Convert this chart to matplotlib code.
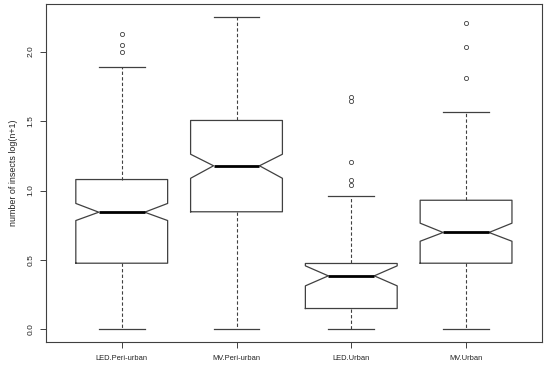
import matplotlib
matplotlib.use("Agg")
import matplotlib.pyplot as plt

# groups and summary stats
groups = ["LED.Peri-urban", "MV.Peri-urban", "LED.Urban", "MV.Urban"]
q1 = [0.477, 0.847, 0.151, 0.477]
med = [0.844, 1.178, 0.386, 0.698]
q3 = [1.079, 1.504, 0.475, 0.930]
whislo = [0.0, 0.0, 0.0, 0.0]
whishi = [1.89, 2.252, 0.957, 1.568]
notch_lo = [0.784, 1.088, 0.314, 0.635]
notch_hi = [0.907, 1.261, 0.458, 0.765]
outliers = [
    [2.125, 2.05, 1.998],
    [],
    [1.676, 1.647, 1.204, 1.079, 1.041],
    [2.204, 2.034, 1.808],
]

plt.rcParams['font.family'] = ['Liberation Sans', 'DejaVu Sans']

stats = []
for i in range(len(groups)):
    stats.append(dict(label=groups[i], q1=q1[i], med=med[i], q3=q3[i],
                      whislo=whislo[i], whishi=whishi[i],
                      cilo=notch_lo[i], cihi=notch_hi[i], fliers=outliers[i]))

fig = plt.figure(figsize=(5.5, 3.67), dpi=100)
ax = fig.add_axes([0.0836, 0.0681, 0.9015, 0.9210])

col = "#404040"
ax.bxp(stats, positions=[1, 2, 3, 4], widths=0.8, shownotches=True,
       boxprops=dict(color=col, linewidth=0.9),
       medianprops=dict(color="black", linewidth=2.0),
       whiskerprops=dict(color=col, linewidth=0.8, linestyle=(0, (3, 2))),
       capprops=dict(color=col, linewidth=0.9),
       flierprops=dict(marker="o", markersize=3.0, markerfacecolor="none",
                       markeredgecolor=col, markeredgewidth=0.6),
       capwidths=0.4)

ax.set_xlim(0.34, 4.66)
ax.set_ylim(-0.09, 2.342)
ax.set_yticks([0.0, 0.5, 1.0, 1.5, 2.0])
ax.set_yticklabels(["0.0", "0.5", "1.0", "1.5", "2.0"], rotation=90, va="center")
ax.set_xticks([1, 2, 3, 4])
ax.set_xticklabels(groups)
ax.tick_params(axis="both", labelsize=5.4, length=4.3, width=0.7, colors=col,
               labelcolor="#222222")
ax.tick_params(axis="x", pad=5)
ax.tick_params(axis="y", pad=4, labelsize=6)
ax.set_ylabel("number of insects log(n+1)", fontsize=6.4, color="#222222", labelpad=7)
for s in ax.spines.values():
    s.set_color(col)
    s.set_linewidth(0.8)

fig.savefig("out.png", dpi=100)
